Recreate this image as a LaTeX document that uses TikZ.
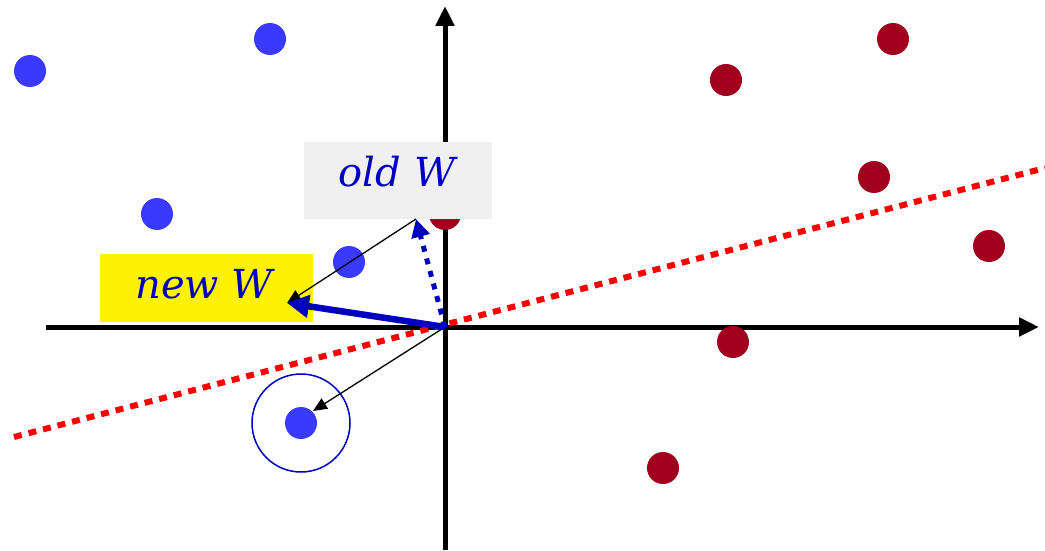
\documentclass[tikz,border=0pt]{standalone}
\usepackage{fontspec}
\newfontfamily\lblfont{DejaVu Serif}
\usetikzlibrary{arrows.meta}
\definecolor{bdot}{HTML}{3A3AFF}
\definecolor{rdot}{HTML}{A0001E}
\definecolor{wblue}{HTML}{0000C0}
\definecolor{boxgray}{HTML}{F0F0F0}
\definecolor{lred}{HTML}{FF0000}
\begin{document}
\begin{tikzpicture}[x=1pt,y=-1pt,
  bluedot/.style={circle,fill=bdot,minimum size=32pt,inner sep=0pt},
  reddot/.style={circle,fill=rdot,minimum size=32pt,inner sep=0pt},
  axis/.style={line width=5pt,-{Triangle[length=20pt,width=18pt]}},
  lbl/.style={text=wblue,font=\lblfont\fontsize{40}{48}\selectfont\itshape,inner sep=0pt,anchor=center},
  thinarrow/.style={line width=1.3pt,-{Triangle[length=14pt,width=12pt]}},
  redline/.style={line width=6pt,lred,dash pattern=on 8pt off 7pt},
]
\useasboundingbox (0,0) rectangle (1045,551);
\coordinate (O) at (445,327);
% axes
\coordinate (xl) at (46,327);
\coordinate (xr) at (1039,327);
\coordinate (yb) at (445,550);
\coordinate (yt) at (445,6);
\draw[axis] (xl) -- (xr);
\draw[axis] (yb) -- (yt);
% dots
\node[bluedot] (b1) at (30,71) {};
\node[bluedot] (b2) at (270,39) {};
\node[bluedot] (b3) at (157,214) {};
\node[bluedot] (b4) at (349,262) {};
\node[bluedot] (b5) at (301,423) {};
\node[reddot] (r1) at (893,39) {};
\node[reddot] (r2) at (726,80) {};
\node[reddot] (r3) at (874,177) {};
\node[reddot] (r4) at (989,246) {};
\node[reddot] (r5) at (733,342) {};
\node[reddot] (r6) at (663,468) {};
\node[reddot] (r7) at (445,214) {};
% circle around selected point
\node[circle,draw=wblue,line width=1.5pt,minimum size=98pt,inner sep=0pt] (c1) at (b5) {};
% boxes
\node[fill=boxgray,minimum width=188pt,minimum height=77pt,inner sep=0pt] (oldbox) at (398,180.5) {};
\node[lbl] (oldt) at (397,172) {old W};
\node[fill=yellow,minimum width=213pt,minimum height=68pt,inner sep=0pt] (newbox) at (206.5,288) {};
\node[lbl] (newt) at (204,284) {new W};
% separating line
\coordinate (s1) at (14,437);
\coordinate (s2) at (1045,168);
\draw[redline] (s1) -- (s2);
% vectors
\coordinate (oldW) at (416,219);
\coordinate (newW) at (287,303);
\coordinate (xi) at (313,411);
\draw[thinarrow] (O) -- (xi);
\draw[thinarrow] (oldW) -- (newW);
\draw[wblue,line width=5pt,dash pattern=on 6pt off 7pt,-{Triangle[length=18pt,width=18pt]}] (O) -- (oldW);
\draw[wblue,line width=6.5pt,-{Triangle[length=22pt,width=22pt]}] (O) -- (newW);
\end{tikzpicture}
\end{document}
